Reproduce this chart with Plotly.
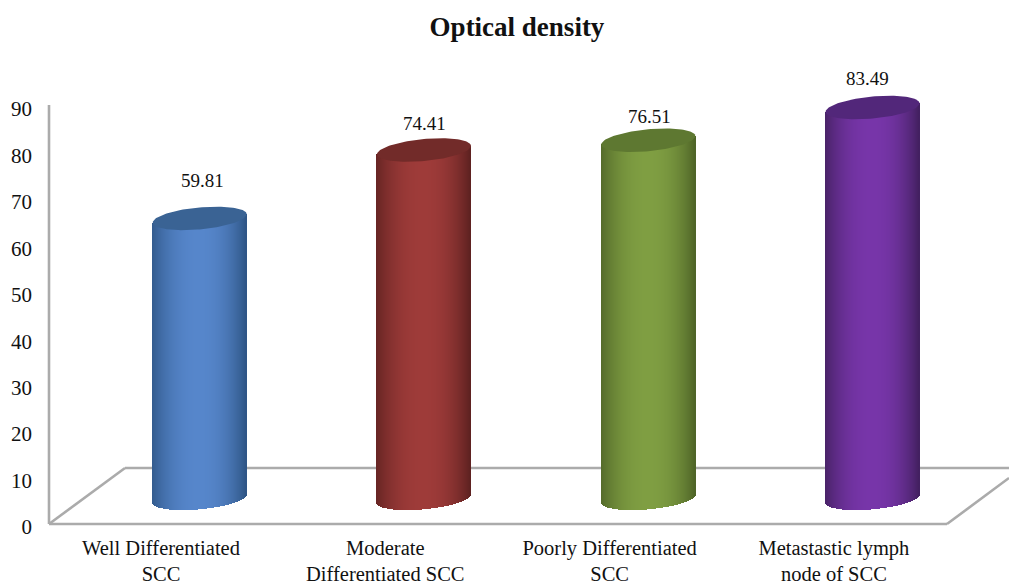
import math
import plotly.graph_objects as go

# ---- data ----
categories = ["Well Differentiated<br>SCC", "Moderate<br>Differentiated SCC",
              "Poorly Differentiated<br>SCC", "Metastastic lymph<br>node of SCC"]
values = [59.81, 74.41, 76.51, 83.49]
y_ticks = [0, 10, 20, 30, 40, 50, 60, 70, 80, 90]
title = "Optical density"

# ---- styling ----
light = ["#5686CB", "#9E3B39", "#7F9E42", "#7735A9"]
dark = ["#2E5585", "#5E2120", "#4E6427", "#42205F"]
cap = ["#3A6394", "#722B29", "#5E7831", "#52277A"]
label_dx = [3, 0, 1, -5]
label_dy = [28, 17, 14, 20]

W, H = 1009, 584
L, TOP, BOTTOM = 49, 60, 527
PX_X = 224.3          # pixels per category
PX_Y = 4.645          # pixels per unit, back wall axis
PX_Y_BAR = 4.68       # pixels per unit, cylinders
BAR_ZERO = 498.3      # pixel row of the cylinders' base centre
RX, A, B = 47.0, 11.0, 4.2


def hex2rgb(h):
    return tuple(int(h[i:i + 2], 16) for i in (1, 3, 5))


def shade(c0, c1, f):
    a, b = hex2rgb(c0), hex2rgb(c1)
    return "rgb(%d,%d,%d)" % tuple(round(p + (q - p) * f) for p, q in zip(a, b))


fig = go.Figure()

# invisible trace that carries the visible axes
fig.add_trace(go.Scatter(x=[0, 3], y=[0, 90], mode="markers", marker=dict(opacity=0),
                         hoverinfo="skip", showlegend=False))

# cylinder bodies: narrow vertical bars from left to right
N = 94
for k in range(N):
    u = -1 + (k + 0.5) * 2 / N
    f = max(0.0, 1 - abs(u) ** 2.2)
    if u < 0:
        f = 0.12 + 0.88 * f
    low = (-A * math.sqrt(max(0, 1 - u * u)) + B * u) / PX_Y_BAR
    mid = (B * u) / PX_Y_BAR
    fig.add_trace(go.Bar(
        x=list(range(len(values))),
        y=[v + mid - low for v in values],
        base=[low] * len(values),
        width=1.6 / PX_X,
        offset=(u * RX - 0.8) / PX_X,
        marker=dict(color=[shade(d, l, f) for d, l in zip(dark, light)], line=dict(width=0)),
        xaxis="x2", yaxis="y2", hoverinfo="skip", showlegend=False,
    ))

# elliptical top faces
for i, v in enumerate(values):
    th = [2 * math.pi * j / 120 for j in range(121)]
    fig.add_trace(go.Scatter(
        x=[i + RX * math.cos(t) / PX_X for t in th],
        y=[v + (A * math.sin(t) + B * math.cos(t)) / PX_Y_BAR for t in th],
        mode="lines", line=dict(width=0, color=cap[i]), fill="toself", fillcolor=cap[i],
        xaxis="x2", yaxis="y2", hoverinfo="skip", showlegend=False,
    ))


def px(x0, y0, x1, y1):
    return dict(type="line", xref="paper", yref="paper", layer="below",
                x0=(x0 - L) / (W - L), x1=(x1 - L) / (W - L),
                y0=(BOTTOM - y0) / (BOTTOM - TOP), y1=(BOTTOM - y1) / (BOTTOM - TOP),
                line=dict(color="#ABABAB", width=2.6))


floor = [px(49, 105, 49, 524), px(49, 524, 947, 524), px(49, 524, 125, 468),
         px(125, 468, 1009, 468), px(947, 524, 1009, 478)]

annotations = [dict(text=f"{v:.2f}", x=i, y=v, xref="x2", yref="y2", showarrow=False,
                    xshift=label_dx[i], yshift=label_dy[i] - 3, yanchor="bottom",
                    font=dict(family="Liberation Serif", size=19, color="#111111"))
               for i, v in enumerate(values)]

fig.update_layout(
    width=W, height=H, autosize=False, barmode="overlay", bargap=0,
    paper_bgcolor="white", plot_bgcolor="white", showlegend=False,
    margin=dict(l=L, r=0, t=TOP, b=H - BOTTOM, pad=0, autoexpand=False),
    font=dict(family="Liberation Serif", color="#111111"),
    title=dict(text=f"<b>{title}</b>", x=517 / W, xanchor="center", xref="container",
               y=1 - 27 / H, yanchor="middle", automargin=False,
               font=dict(size=27, family="Liberation Serif", color="#111111")),
    xaxis=dict(range=[(L - 161) / PX_X, (W - 161) / PX_X], tickvals=list(range(len(categories))),
               ticktext=categories, showgrid=False, zeroline=False, showline=False, ticks="",
               ticklabelstandoff=6, tickfont=dict(size=20.5), tickangle=0, automargin=False),
    yaxis=dict(range=[0, (BOTTOM - TOP) / PX_Y], tickvals=y_ticks, showgrid=False, zeroline=False,
               showline=False, ticks="", ticklabelstandoff=16, tickfont=dict(size=21), automargin=False),
    xaxis2=dict(range=[(L - 199.7) / PX_X, (W - 199.7) / PX_X], overlaying="x", visible=False),
    yaxis2=dict(range=[(BAR_ZERO - BOTTOM) / PX_Y_BAR, (BAR_ZERO - TOP) / PX_Y_BAR],
                overlaying="y", visible=False),
    shapes=floor, annotations=annotations,
)

fig.write_html("out.html", config=dict(displayModeBar=False),
               post_script="document.body.style.margin='0';")
